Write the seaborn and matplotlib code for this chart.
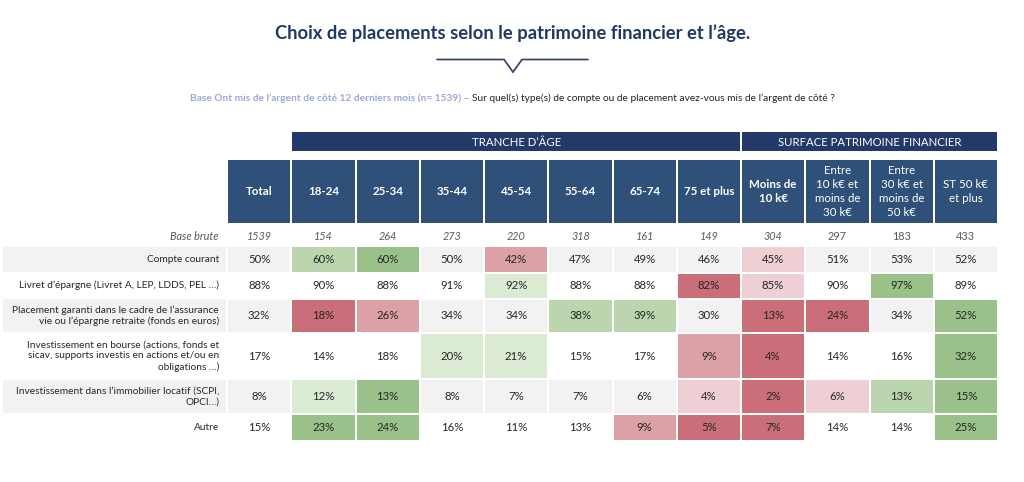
import numpy as np
import pandas as pd
import matplotlib
matplotlib.use("Agg")
import matplotlib.pyplot as plt
from matplotlib.colors import ListedColormap
from matplotlib.patches import Rectangle
import seaborn as sns

sns.set_style("white")
plt.rcParams['font.family'] = ['Lato', 'DejaVu Sans']

# ---------------- data ----------------
title = "Choix de placements selon le patrimoine financier et l\u2019âge."
subtitle_base = "Base Ont mis de l\u2019argent de côté 12 derniers mois (n= 1539) \u2013 "
subtitle_q = "Sur quel(s) type(s) de compte ou de placement avez-vous mis de l\u2019argent de côté ?"

group_labels = ["TRANCHE D\u2019ÂGE", "SURFACE PATRIMOINE FINANCIER"]
columns = ["Total", "18-24", "25-34", "35-44", "45-54", "55-64", "65-74", "75 et plus",
           "Moins de\n10 k€", "Entre\n10 k€ et\nmoins de\n30 k€", "Entre\n30 k€ et\nmoins de\n50 k€",
           "ST 50 k€\net plus"]
header_bold = [True, True, True, True, True, True, True, True, True, False, False, False]
base_brute = [1539, 154, 264, 273, 220, 318, 161, 149, 304, 297, 183, 433]
base_italic = [True] * 9 + [False] * 3

row_labels = [
    "Compte courant",
    "Livret d\u2019épargne (Livret A, LEP, LDDS, PEL \u2026)",
    "Placement garanti dans le cadre de l\u2019assurance\nvie ou l\u2019épargne retraite (fonds en euros)",
    "Investissement en bourse (actions, fonds et\nsicav, supports investis en actions et/ou en\nobligations \u2026)",
    "Investissement dans l\u2019immobilier locatif (SCPI,\nOPCI\u2026)",
    "Autre",
]
compte_courant = [50, 60, 60, 50, 42, 47, 49, 46, 45, 51, 53, 52]
livret = [88, 90, 88, 91, 92, 88, 88, 82, 85, 90, 97, 89]
placement_garanti = [32, 18, 26, 34, 34, 38, 39, 30, 13, 24, 34, 52]
bourse = [17, 14, 18, 20, 21, 15, 17, 9, 4, 14, 16, 32]
immobilier = [8, 12, 13, 8, 7, 7, 6, 4, 2, 6, 13, 15]
autre = [15, 23, 24, 16, 11, 13, 9, 5, 7, 14, 14, 25]
values = [compte_courant, livret, placement_garanti, bourse, immobilier, autre]

# significance flags: 0 none, +1/+2/+3 greener, -1/-2/-3 redder
sig_compte = [0, 2, 3, 0, -2, 0, 0, 0, -1, 0, 0, 0]
sig_livret = [0, 0, 0, 0, 1, 0, 0, -3, -1, 0, 3, 0]
sig_placement = [0, -3, -2, 0, 0, 2, 2, 0, -3, -3, 0, 3]
sig_bourse = [0, 0, 0, 1, 1, 0, 0, -2, -3, 0, 0, 3]
sig_immo = [0, 1, 3, 0, 0, 0, 0, -1, -3, -1, 2, 3]
sig_autre = [0, 3, 3, 0, 0, 0, -2, -3, -3, 0, 0, 3]
significance = [sig_compte, sig_livret, sig_placement, sig_bourse, sig_immo, sig_autre]

# ---------------- style ----------------
NAVY = "#1f3864"
HEAD = "#2f5078"
BAND = "#22396a"
GRAY = "#f2f2f2"
# code colours: 0 white, 1 gray, 2..4 greens, 5..7 reds
palette = ["#ffffff", GRAY, "#dbead3", "#bbd6ae", "#9ac18a", "#eecfd3", "#dca0a7", "#ca6f79"]
cmap = ListedColormap(palette)

W, H = 1024, 482
fig = plt.figure(figsize=(W / 100, H / 100), dpi=100)
bg = fig.add_axes([0, 0, 1, 1])
bg.set_xlim(0, W)
bg.set_ylim(H, 0)
bg.axis("off")

# title and decorative arrow line
bg.text(513, 33, title, ha="center", va="center", fontsize=13.2, fontweight="bold", color=NAVY)
bg.plot([437, 504, 513, 522, 588], [59.5, 59.5, 72, 59.5, 59.5], color="#3b4a6b", lw=1.3,
        solid_joinstyle="miter")

# subtitle (two colours)
t1 = bg.text(190, 98, subtitle_base, ha="left", va="center", fontsize=7.3,
             color="#9ea6d9", fontweight="bold")
fig.canvas.draw()
bb = t1.get_window_extent()
x_end = bb.x1
bg.text(x_end, H - 98, subtitle_q, ha="left", va="center", fontsize=7.3, color="#222222",
        transform=None)

# grid geometry
X0, X1 = 227, 998
ncol = len(columns)
cw = (X1 - X0) / ncol
col_centers = [X0 + cw * (i + 0.5) for i in range(ncol)]


def fig_axes(x0, x1, y0, y1):
    return fig.add_axes([x0 / W, 1 - y1 / H, (x1 - x0) / W, (y1 - y0) / H])


# group bands
bg.add_patch(Rectangle((X0 + cw + 1, 132), cw * 7 - 2, 19, color=BAND, lw=0))
bg.add_patch(Rectangle((X0 + cw * 8 + 1, 132), cw * 4 - 2, 19, color=BAND, lw=0))
bg.text(X0 + cw * 4.5, 142, group_labels[0], ha="center", va="center", color="white", fontsize=8.2)
bg.text(X0 + cw * 10, 142, group_labels[1], ha="center", va="center", color="white", fontsize=8.2)

# header row drawn as a one-row heatmap
hax = fig_axes(X0, X1, 159, 224)
hdf = pd.DataFrame([np.ones(ncol)], columns=[c.replace("\n", " ") for c in columns])
sns.heatmap(hdf, ax=hax, cmap=ListedColormap([HEAD]), cbar=False, annot=np.array([columns]),
            fmt="", linewidths=1.4, linecolor="white",
            annot_kws={"color": "white", "fontsize": 8.3, "linespacing": 1.3})
for txt, b in zip(hax.texts, header_bold):
    txt.set_fontweight("bold" if b else "normal")
hax.set_xticks([]); hax.set_yticks([])
hax.set_xlabel(""); hax.set_ylabel("")

# base brute row
bg.text(219, 236, "Base brute", ha="right", va="center", fontsize=7.8, style="italic", color="#595959")
for xc, v, it in zip(col_centers, base_brute, base_italic):
    bg.text(xc, 236, str(v), ha="center", va="center", fontsize=7.8,
            style="italic" if it else "normal", color="#595959")

# data rows with variable heights
bounds = [246, 272.5, 298.5, 333, 379, 413.5, 441]
for r in range(len(row_labels)):
    y0, y1 = bounds[r], bounds[r + 1]
    bgcode = 1 if r % 2 == 0 else 0
    codes = []
    for s in significance[r]:
        if s == 0:
            codes.append(bgcode)
        elif s > 0:
            codes.append(1 + s)
        else:
            codes.append(4 - s)
    if r % 2 == 0:
        bg.add_patch(Rectangle((3, y0 + 0.7), 223, (y1 - y0) - 1.4, color=GRAY, lw=0))
    bg.text(219, (y0 + y1) / 2, row_labels[r], ha="right", va="center", fontsize=7.3,
            color="#262626", multialignment="right", linespacing=1.25)
    ax = fig_axes(X0, X1, y0, y1)
    df = pd.DataFrame([codes], columns=[c.replace("\n", " ") for c in columns])
    annot = np.array([[f"{v}%" for v in values[r]]])
    sns.heatmap(df, ax=ax, cmap=cmap, vmin=-0.5, vmax=len(palette) - 0.5, cbar=False,
                annot=annot, fmt="", linewidths=1.4, linecolor="white",
                annot_kws={"color": "#262626", "fontsize": 8.2})
    ax.set_xticks([]); ax.set_yticks([])
    ax.set_xlabel(""); ax.set_ylabel("")

fig.savefig("out.png", dpi=100, facecolor="white")
